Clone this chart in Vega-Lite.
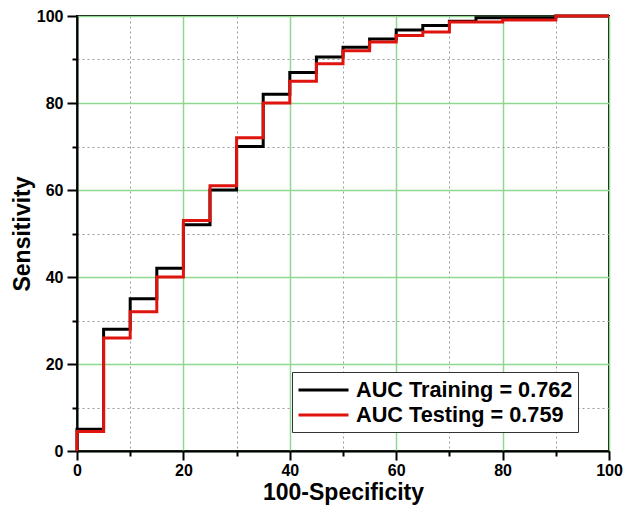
{
  "$schema": "https://vega.github.io/schema/vega-lite/v6.json",
  "autosize": "none",
  "width": 532,
  "height": 435,
  "padding": {"left": 77, "top": 16, "right": 14, "bottom": 59},
  "background": "white",
  "config": {
    "font": "Liberation Sans",
    "view": {"stroke": "black", "strokeWidth": 2}
  },
  "data": {
    "values": [
      {"s": "AUC Training = 0.762", "i": 0, "x": 0, "y": 0},
      {"s": "AUC Training = 0.762", "i": 1, "x": 0, "y": 5},
      {"s": "AUC Training = 0.762", "i": 2, "x": 5, "y": 28},
      {"s": "AUC Training = 0.762", "i": 3, "x": 10, "y": 35},
      {"s": "AUC Training = 0.762", "i": 4, "x": 15, "y": 42},
      {"s": "AUC Training = 0.762", "i": 5, "x": 20, "y": 52},
      {"s": "AUC Training = 0.762", "i": 6, "x": 25, "y": 60},
      {"s": "AUC Training = 0.762", "i": 7, "x": 30, "y": 70},
      {"s": "AUC Training = 0.762", "i": 8, "x": 35, "y": 82},
      {"s": "AUC Training = 0.762", "i": 9, "x": 40, "y": 87},
      {"s": "AUC Training = 0.762", "i": 10, "x": 45, "y": 90.6},
      {"s": "AUC Training = 0.762", "i": 11, "x": 50, "y": 92.8},
      {"s": "AUC Training = 0.762", "i": 12, "x": 55, "y": 94.7},
      {"s": "AUC Training = 0.762", "i": 13, "x": 60, "y": 96.8},
      {"s": "AUC Training = 0.762", "i": 14, "x": 65, "y": 97.8},
      {"s": "AUC Training = 0.762", "i": 15, "x": 70, "y": 98.8},
      {"s": "AUC Training = 0.762", "i": 16, "x": 75, "y": 99.6},
      {"s": "AUC Training = 0.762", "i": 17, "x": 90, "y": 100},
      {"s": "AUC Training = 0.762", "i": 18, "x": 100, "y": 100},
      {"s": "AUC Testing = 0.759", "i": 0, "x": 0, "y": 0},
      {"s": "AUC Testing = 0.759", "i": 1, "x": 0, "y": 4.5},
      {"s": "AUC Testing = 0.759", "i": 2, "x": 5, "y": 26},
      {"s": "AUC Testing = 0.759", "i": 3, "x": 10, "y": 32},
      {"s": "AUC Testing = 0.759", "i": 4, "x": 15, "y": 40},
      {"s": "AUC Testing = 0.759", "i": 5, "x": 20, "y": 53},
      {"s": "AUC Testing = 0.759", "i": 6, "x": 25, "y": 61},
      {"s": "AUC Testing = 0.759", "i": 7, "x": 30, "y": 72},
      {"s": "AUC Testing = 0.759", "i": 8, "x": 35, "y": 80},
      {"s": "AUC Testing = 0.759", "i": 9, "x": 40, "y": 85},
      {"s": "AUC Testing = 0.759", "i": 10, "x": 45, "y": 89},
      {"s": "AUC Testing = 0.759", "i": 11, "x": 50, "y": 92},
      {"s": "AUC Testing = 0.759", "i": 12, "x": 55, "y": 94},
      {"s": "AUC Testing = 0.759", "i": 13, "x": 60, "y": 95.5},
      {"s": "AUC Testing = 0.759", "i": 14, "x": 65, "y": 96.3},
      {"s": "AUC Testing = 0.759", "i": 15, "x": 70, "y": 98.6},
      {"s": "AUC Testing = 0.759", "i": 16, "x": 80, "y": 99.1},
      {"s": "AUC Testing = 0.759", "i": 17, "x": 90, "y": 100},
      {"s": "AUC Testing = 0.759", "i": 18, "x": 100, "y": 100}
    ]
  },
  "mark": {"type": "line", "interpolate": "step-after", "strokeWidth": 3, "clip": false},
  "encoding": {
    "x": {
      "field": "x", "type": "quantitative",
      "scale": {"domain": [0, 100], "nice": false, "zero": false},
      "axis": {
        "title": "100-Specificity",
        "values": [0, 10, 20, 30, 40, 50, 60, 70, 80, 90, 100],
        "labelExpr": "datum.value % 20 === 0 ? datum.label : ''",
        "grid": true,
        "gridColor": {"condition": {"test": "datum.value % 20 === 0", "value": "#8fd88f"}, "value": "#9a9a9a"},
        "gridDash": {"condition": {"test": "datum.value % 20 === 0", "value": []}, "value": [2, 3]},
        "gridWidth": {"condition": {"test": "datum.value % 20 === 0", "value": 1.5}, "value": 1},
        "tickSize": {"condition": {"test": "datum.value % 20 === 0", "value": 9}, "value": 5},
        "tickColor": "black", "tickWidth": 2,
        "domainColor": "black", "domainWidth": 2,
        "labelFont": "Liberation Sans", "labelFontWeight": "bold", "labelFontSize": 16, "labelColor": "black",
        "labelPadding": 2, "labelFlush": false,
        "titleFont": "Liberation Sans", "titleFontWeight": "bold", "titleFontSize": 23, "titleColor": "black",
        "titlePadding": 3
      }
    },
    "y": {
      "field": "y", "type": "quantitative",
      "scale": {"domain": [0, 100], "nice": false, "zero": false},
      "axis": {
        "title": "Sensitivity",
        "values": [0, 10, 20, 30, 40, 50, 60, 70, 80, 90, 100],
        "labelExpr": "datum.value % 20 === 0 ? datum.label : ''",
        "grid": true,
        "gridColor": {"condition": {"test": "datum.value % 20 === 0", "value": "#8fd88f"}, "value": "#9a9a9a"},
        "gridDash": {"condition": {"test": "datum.value % 20 === 0", "value": []}, "value": [2, 3]},
        "gridWidth": {"condition": {"test": "datum.value % 20 === 0", "value": 1.5}, "value": 1},
        "tickSize": {"condition": {"test": "datum.value % 20 === 0", "value": 10}, "value": 5},
        "tickColor": "black", "tickWidth": 2,
        "domainColor": "black", "domainWidth": 2,
        "labelFont": "Liberation Sans", "labelFontWeight": "bold", "labelFontSize": 16, "labelColor": "black",
        "labelPadding": 4, "labelFlush": false,
        "titleFont": "Liberation Sans", "titleFontWeight": "bold", "titleFontSize": 23, "titleColor": "black",
        "titlePadding": 2
      }
    },
    "color": {
      "field": "s", "type": "nominal",
      "scale": {"domain": ["AUC Training = 0.762", "AUC Testing = 0.759"], "range": ["#000000", "#e0140f"]},
      "legend": {
        "title": null,
        "orient": "none",
        "legendX": 215,
        "legendY": 356,
        "fillColor": "white",
        "strokeColor": "#333333",
        "padding": 5,
        "symbolType": "M-1,0H3.35",
        "symbolSize": 529,
        "symbolStrokeWidth": 3,
        "labelFont": "Liberation Sans",
        "labelFontWeight": "bold",
        "labelFontSize": 21.7,
        "labelColor": "black",
        "labelLimit": 400,
        "rowPadding": 0,
        "labelOffset": 33
      }
    },
    "order": {"field": "i", "type": "quantitative"}
  }
}
